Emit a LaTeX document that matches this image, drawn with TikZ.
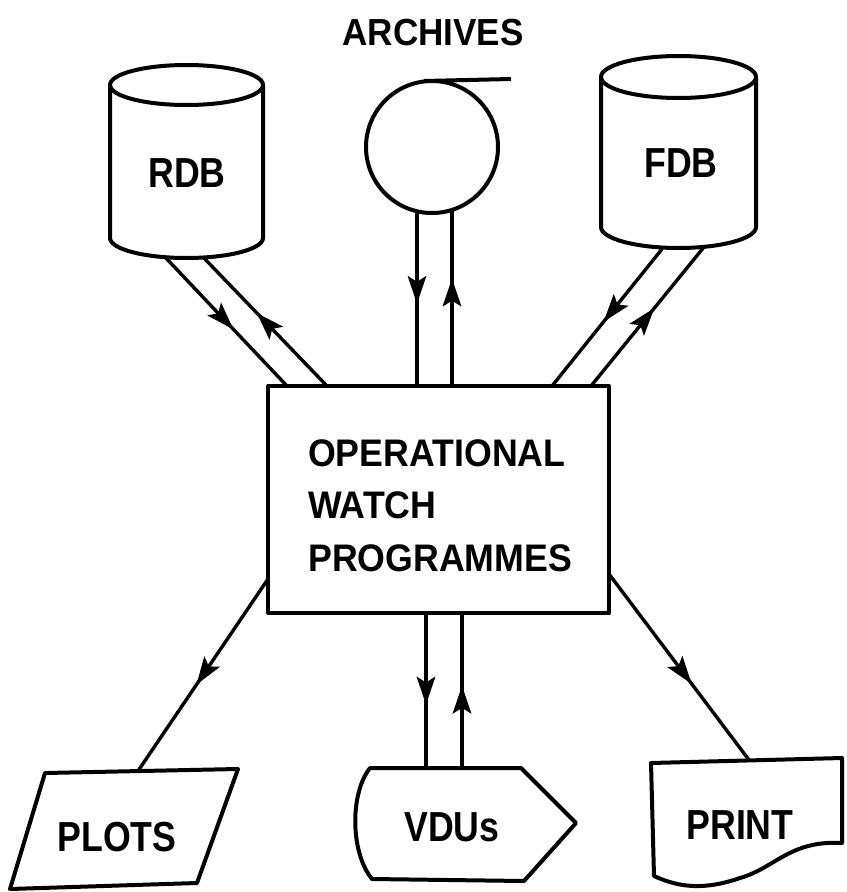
\documentclass[tikz,border=0pt]{standalone}
\usepackage{fontspec}
\newfontfamily\labA[FakeStretch=0.85]{Liberation Sans}
\newfontfamily\labB[FakeStretch=0.93]{Liberation Sans}
\usetikzlibrary{decorations.markings}
\tikzset{
  shapeline/.style={line width=4bp, line join=round},
  conn/.style={line width=3.4bp},
  lab/.style={font=\labA\bfseries\fontsize{42bp}{42bp}\selectfont, inner sep=0pt, anchor=base},
  boxlab/.style={font=\labB\bfseries\fontsize{38.4bp}{40bp}\selectfont, inner sep=0pt, anchor=base west},
  archlab/.style={font=\labB\bfseries\fontsize{37.7bp}{40bp}\selectfont, inner sep=0pt, anchor=base},
  midarrow/.style={postaction={decorate}, decoration={markings, mark=at position #1 with {\fill[line join=miter] (0bp,0bp) -- (-28bp,9.5bp) -- (-22bp,0bp) -- (-28bp,-9.5bp) -- cycle;}}},
}
\begin{document}
\begin{tikzpicture}[x=1bp, y=-1bp]
\useasboundingbox (0,0) rectangle (847,892);

% ---- shapes ----
% RDB cylinder
\draw[shapeline] (186.5,85) ellipse [x radius=76.5bp, y radius=20bp];
\draw[shapeline] (110,85) -- (110,238) arc[start angle=180, end angle=360, x radius=76.5bp, y radius=20bp] -- (263,85);
% FDB cylinder
\draw[shapeline] (678.5,77) ellipse [x radius=77.5bp, y radius=21bp];
\draw[shapeline] (601,77) -- (601,227) arc[start angle=180, end angle=360, x radius=77.5bp, y radius=21bp] -- (756,77);
% Archives tape
\draw[shapeline] (432,147) circle [radius=66bp];
\draw[shapeline] (424,81) -- (511,79);
% main box
\node[draw, shapeline, minimum width=341bp, minimum height=227bp, inner sep=0pt] (owp) at (438.5,499.5) {};
% PLOTS parallelogram
\draw[shapeline] (45,773) -- (238,769) -- (197,883) -- (10,889) -- cycle;
% VDUs display
\draw[shapeline] (370,768) -- (521,768) -- (576,823) -- (524,881) -- (372,879) .. controls (350,852) and (350,793) .. cycle;
% PRINT document
\draw[shapeline] (651,763) -- (842,758) -- (842,843) .. controls (790,840) and (775,868) .. (740,878) .. controls (705,890) and (680,888) .. (654,876) -- cycle;

% ---- labels ----
\node[archlab] (arch) at (433,45) {ARCHIVES};
\node[lab] (rdb) at (187,187) {RDB};
\node[lab] (fdb) at (681,177) {FDB};
\node[boxlab] (owp1) at (308,466) {OPERATIONAL};
\node[boxlab] (owp2) at (308,518) {WATCH};
\node[boxlab] (owp3) at (308,571) {PROGRAMMES};
\node[lab] (plots) at (117,851) {PLOTS};
\node[lab] (vdus) at (452,841) {VDUs};
\node[lab] (print) at (740,839) {PRINT};

% ---- connector end points ----
\coordinate (rdbA) at (165,257);  \coordinate (owpRA) at (287,386);
\coordinate (rdbB) at (203,257);  \coordinate (owpRB) at (327,386);
\coordinate (arcA) at (417,211);  \coordinate (owpAA) at (417,386);
\coordinate (arcB) at (452,210);  \coordinate (owpAB) at (452,386);
\coordinate (fdbA) at (662,249);  \coordinate (owpFA) at (552,386);
\coordinate (fdbB) at (704,247);  \coordinate (owpFB) at (591,386);
\coordinate (owpP) at (268,579);  \coordinate (plotsT) at (138,771);
\coordinate (owpVA) at (426,613); \coordinate (vduA) at (426,768);
\coordinate (owpVB) at (462,613); \coordinate (vduB) at (462,768);
\coordinate (owpQ) at (609,574);  \coordinate (printT) at (749,760);

% ---- connectors ----
\draw[conn, midarrow=0.56] (rdbA) -- (owpRA);
\draw[conn, midarrow=0.565] (owpRB) -- (rdbB);
\draw[conn, midarrow=0.53] (arcA) -- (owpAA);
\draw[conn, midarrow=0.61] (owpAB) -- (arcB);
\draw[conn, midarrow=0.53] (fdbA) -- (owpFA);
\draw[conn, midarrow=0.56] (owpFB) -- (fdbB);
\draw[conn, midarrow=0.55] (owpP) -- (plotsT);
\draw[conn, midarrow=0.59] (owpVA) -- (vduA);
\draw[conn, midarrow=0.53] (vduB) -- (owpVB);
\draw[conn, midarrow=0.59] (owpQ) -- (printT);
\end{tikzpicture}
\end{document}
